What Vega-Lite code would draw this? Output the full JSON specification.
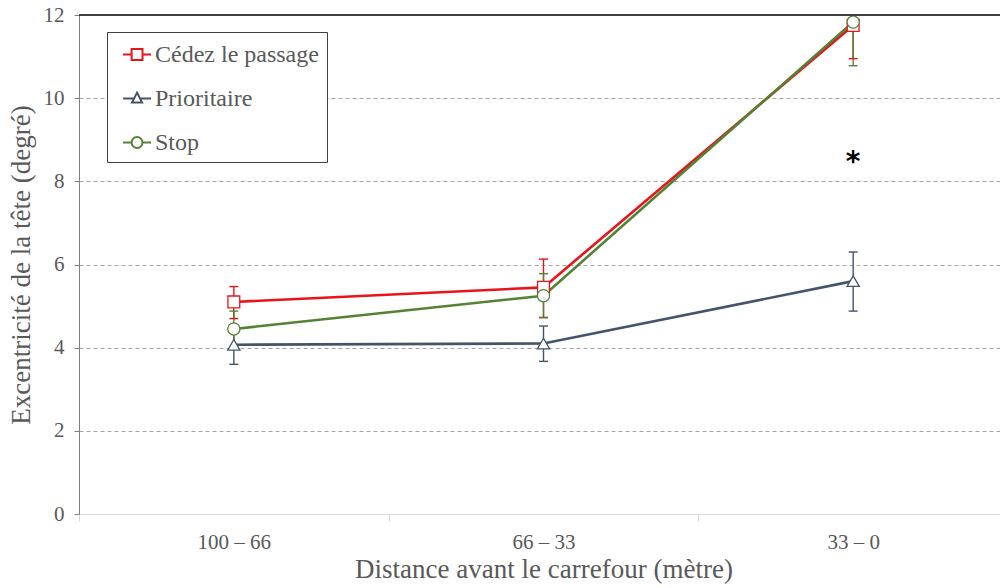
{
  "$schema": "https://vega.github.io/schema/vega-lite/v6.json",
  "width": 921,
  "height": 499,
  "autosize": "none",
  "padding": {"left": 79, "top": 15, "right": 0, "bottom": 74},
  "background": "white",
  "config": {
    "view": {"stroke": null},
    "font": "Liberation Serif",
    "legend": {"labelFont": "Liberation Serif", "labelFontSize": 24, "labelColor": "#595959"}
  },
  "data": {
    "values": [
      {"dist": "100 – 66", "serie": "Cédez le passage", "mean": 5.1, "lo": 4.7, "hi": 5.47},
      {"dist": "66 – 33", "serie": "Cédez le passage", "mean": 5.45, "lo": 4.72, "hi": 6.13},
      {"dist": "33 – 0", "serie": "Cédez le passage", "mean": 11.75, "lo": 10.95, "hi": 12.55},
      {"dist": "100 – 66", "serie": "Prioritaire", "mean": 4.07, "lo": 3.6, "hi": 4.54},
      {"dist": "66 – 33", "serie": "Prioritaire", "mean": 4.1, "lo": 3.67, "hi": 4.52},
      {"dist": "33 – 0", "serie": "Prioritaire", "mean": 5.6, "lo": 4.88, "hi": 6.3},
      {"dist": "100 – 66", "serie": "Stop", "mean": 4.45, "lo": 4.0, "hi": 4.88},
      {"dist": "66 – 33", "serie": "Stop", "mean": 5.25, "lo": 4.73, "hi": 5.78},
      {"dist": "33 – 0", "serie": "Stop", "mean": 11.83, "lo": 10.78, "hi": 12.88}
    ]
  },
  "layer": [
    {
      "mark": {"type": "point", "opacity": 0, "filled": false},
      "encoding": {
        "x": {
          "field": "dist",
          "type": "nominal",
          "sort": ["100 – 66", "66 – 33", "33 – 0"],
          "scale": {"type": "band", "range": [0, 929], "paddingInner": 0, "paddingOuter": 0},
          "title": "Distance avant le carrefour (mètre)",
          "axis": {
            "labelAngle": 0,
            "tickBand": "extent",
            "tickSize": 7,
            "tickColor": "#d9d9d9",
            "domainColor": "#d9d9d9",
            "labelFont": "Liberation Serif",
            "labelFontSize": 21,
            "labelColor": "#595959",
            "labelPadding": 10,
            "titleFont": "Liberation Serif",
            "titleFontSize": 27,
            "titleFontWeight": "normal",
            "titleColor": "#595959",
            "titlePadding": 4
          }
        },
        "y": {
          "field": "mean",
          "type": "quantitative",
          "scale": {"domain": [0, 12]},
          "title": "Excentricité de la tête (degré)",
          "axis": {
            "values": [0, 2, 4, 6, 8, 10, 12],
            "grid": true,
            "gridDash": [4, 3],
            "gridColor": "#a6a6a6",
            "gridOpacity": {"condition": {"test": "datum.value === 0 || datum.value === 12", "value": 0}, "value": 1},
            "domainColor": "#7f7f7f",
            "tickColor": "#7f7f7f",
            "tickSize": 5,
            "labelFont": "Liberation Serif",
            "labelFontSize": 21,
            "labelColor": "#595959",
            "labelPadding": 10,
            "titleFont": "Liberation Serif",
            "titleFontSize": 27,
            "titleFontWeight": "normal",
            "titleColor": "#595959",
            "titlePadding": 8
          }
        },
        "color": {
          "field": "serie",
          "type": "nominal",
          "scale": {"domain": ["Cédez le passage", "Prioritaire", "Stop"], "range": ["#e8141b", "#44546a", "#548235"]},
          "legend": {
            "title": null, "orient": "none", "legendX": 28, "legendY": 17,
            "strokeColor": "#404040", "fillColor": "white", "padding": 7.5,
            "symbolSize": 784, "symbolStrokeWidth": 2, "symbolOpacity": 1,
            "rowPadding": 17, "labelOffset": 10.5,
            "labelFont": "Liberation Serif", "labelFontSize": 24, "labelColor": "#595959",
            "labelLimit": 400
          }
        },
        "shape": {
          "field": "serie",
          "type": "nominal",
          "scale": {
            "domain": ["Cédez le passage", "Prioritaire", "Stop"],
            "range": [
              "M-0.46,0H0.15M0.93,0H1.54M0.15,-0.39H0.93V0.39H0.15Z",
              "M-0.46,0H0.324M0.756,0H1.54M0.54,-0.42L0.9,0.28H0.18Z",
              "M-0.46,0H0.15M0.93,0H1.54M0.15,0A0.39,0.39 0 1 0 0.93,0A0.39,0.39 0 1 0 0.15,0Z"
            ]
          },
          "legend": {
            "title": null, "orient": "none", "legendX": 28, "legendY": 17,
            "strokeColor": "#404040", "fillColor": "white", "padding": 7.5,
            "symbolSize": 784, "symbolStrokeWidth": 2, "symbolOpacity": 1,
            "rowPadding": 17, "labelOffset": 10.5,
            "labelFont": "Liberation Serif", "labelFontSize": 24, "labelColor": "#595959",
            "labelLimit": 400
          }
        }
      }
    },
    {
      "mark": {"type": "rule", "clip": true, "strokeWidth": 1.4},
      "encoding": {
        "x": {"field": "dist", "type": "nominal", "sort": ["100 – 66", "66 – 33", "33 – 0"]},
        "y": {"field": "lo", "type": "quantitative"},
        "y2": {"field": "hi"},
        "stroke": {
          "field": "serie",
          "type": "nominal",
          "scale": {"range": ["#e8141b", "#44546a", "#548235"]},
          "legend": null
        }
      }
    },
    {
      "mark": {"type": "tick", "clip": true, "size": 9, "thickness": 1.4, "orient": "horizontal", "opacity": 1},
      "encoding": {
        "x": {"field": "dist", "type": "nominal", "sort": ["100 – 66", "66 – 33", "33 – 0"]},
        "y": {"field": "lo", "type": "quantitative"},
        "fill": {
          "field": "serie", "type": "nominal", "legend": null,
          "scale": {"range": ["#e8141b", "#44546a", "#548235"]}
        }
      }
    },
    {
      "mark": {"type": "tick", "clip": true, "size": 9, "thickness": 1.4, "orient": "horizontal", "opacity": 1},
      "encoding": {
        "x": {"field": "dist", "type": "nominal", "sort": ["100 – 66", "66 – 33", "33 – 0"]},
        "y": {"field": "hi", "type": "quantitative"},
        "fill": {"field": "serie", "type": "nominal", "legend": null}
      }
    },
    {
      "mark": {"type": "line", "strokeWidth": 2.6},
      "encoding": {
        "x": {"field": "dist", "type": "nominal", "sort": ["100 – 66", "66 – 33", "33 – 0"]},
        "y": {"field": "mean", "type": "quantitative"},
        "stroke": {"field": "serie", "type": "nominal", "legend": null}
      }
    },
    {
      "transform": [{"filter": "datum.serie === 'Prioritaire'"}],
      "mark": {"type": "point", "shape": "triangle-up", "size": 150, "fill": "white", "filled": true, "opacity": 1, "strokeWidth": 1.3},
      "encoding": {
        "x": {"field": "dist", "type": "nominal", "sort": ["100 – 66", "66 – 33", "33 – 0"]},
        "y": {"field": "mean", "type": "quantitative"},
        "stroke": {"field": "serie", "type": "nominal", "legend": null}
      }
    },
    {
      "transform": [{"filter": "datum.serie === 'Cédez le passage'"}],
      "mark": {"type": "point", "shape": "square", "size": 140, "fill": "white", "filled": true, "opacity": 1, "strokeWidth": 1.3},
      "encoding": {
        "x": {"field": "dist", "type": "nominal", "sort": ["100 – 66", "66 – 33", "33 – 0"]},
        "y": {"field": "mean", "type": "quantitative"},
        "stroke": {"field": "serie", "type": "nominal", "legend": null}
      }
    },
    {
      "transform": [{"filter": "datum.serie === 'Stop'"}],
      "mark": {"type": "point", "shape": "circle", "size": 150, "fill": "white", "filled": true, "opacity": 1, "strokeWidth": 1.3},
      "encoding": {
        "x": {"field": "dist", "type": "nominal", "sort": ["100 – 66", "66 – 33", "33 – 0"]},
        "y": {"field": "mean", "type": "quantitative"},
        "stroke": {"field": "serie", "type": "nominal", "legend": null}
      }
    },
    {
      "mark": {"type": "rule", "color": "#404040", "strokeWidth": 1.2},
      "encoding": {"y": {"datum": 12}}
    },
    {
      "data": {"values": [{"dist": "33 – 0", "v": 8.45, "t": "*"}]},
      "mark": {"type": "text", "font": "DejaVu Sans", "fontSize": 28, "fontWeight": "bold", "color": "black", "baseline": "middle"},
      "encoding": {
        "x": {"field": "dist", "type": "nominal", "sort": ["100 – 66", "66 – 33", "33 – 0"]},
        "y": {"field": "v", "type": "quantitative"},
        "text": {"field": "t"}
      }
    }
  ]
}
